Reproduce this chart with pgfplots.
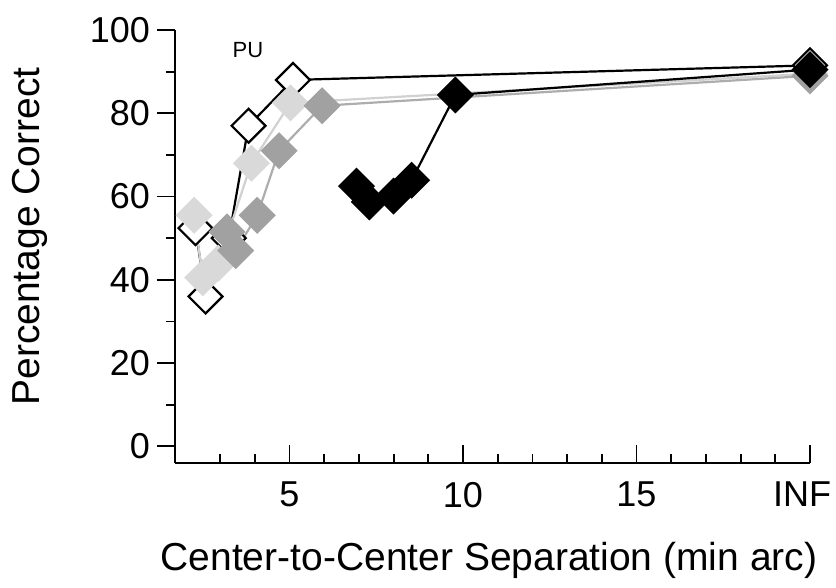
\documentclass[border=0pt]{standalone}
\usepackage{fontspec}
\setmainfont{Liberation Sans}
\usepackage{pgfplots}
\pgfplotsset{compat=1.18}
\definecolor{lightg}{gray}{0.85}
\definecolor{midg}{gray}{0.63}
\definecolor{lightline}{gray}{0.82}
\definecolor{midline}{gray}{0.68}

\begin{document}
\begin{tikzpicture}
\useasboundingbox (-87.5pt,-62.5pt) rectangle (330.5pt,231.5pt);
\begin{axis}[
  at={(0,0)}, anchor=south west,
  scale only axis, width=317.5pt, height=216.5pt,
  xmin=1.7, xmax=20, ymin=-4, ymax=100,
  axis lines*=left,
  axis line style={-, line width=1.1pt},
  clip=false,
  xtick={5,10,15,20}, xticklabels={5,10,15,\makebox[0pt]{\kern-8pt INF}},
  minor xtick={3,4,6,7,8,9,11,12,13,14,16,17,18,19},
  ytick={0,20,...,100}, minor ytick={10,30,...,90},
  xtick align=inside, ytick align=outside,
  major tick length=9pt, minor tick length=4.5pt,
  tick style={line width=0.9pt, black},
  tick label style={font=\fontsize{18}{21}\selectfont},
  xticklabel style={yshift=-6pt},
  /pgf/number format/assume math mode=true,
  label style={font=\fontsize{19.5}{23}\selectfont},
  xlabel={Center-to-Center Separation (min arc)},
  ylabel={Percentage Correct},
  xlabel style={at={(axis description cs:0.4945,-0.224)}, anchor=center},
  ylabel style={at={(axis description cs:-0.2283,0.523)}, anchor=center},
  every axis plot/.append style={line width=1.1pt},
]
% open diamonds
\addplot[black, mark=square*, mark size=6pt,
  mark options={rotate=45, fill=white, draw=black, line width=1.1pt}]
  coordinates {(2.29,52.4) (2.58,36) (3.25,50) (3.82,77) (5.1,88) (20,91.5)};
% light grey
\addplot[lightline, mark=square*, mark size=6pt,
  mark options={rotate=45, fill=lightg, draw=lightg}]
  coordinates {(2.25,55.5) (2.5,40.5) (2.95,44) (3.9,68) (5.03,82.5) (20,89.5)};
% medium grey
\addplot[midline, mark=square*, mark size=6pt,
  mark options={rotate=45, fill=midg, draw=midg}]
  coordinates {(3.2,51.5) (3.45,47) (4.07,55.5) (4.7,71) (5.94,81.8) (20,89)};
% black
\addplot[black, mark=square*, mark size=6pt,
  mark options={rotate=45, fill=black, draw=black}]
  coordinates {(6.93,62.5) (7.3,58.7) (8.0,60.1) (8.52,63.9) (9.78,84.4) (20,90.5)};
\node[font=\fontsize{11}{13}\selectfont] at (axis cs:3.8,95.2) {PU};
\end{axis}
\end{tikzpicture}
\end{document}
